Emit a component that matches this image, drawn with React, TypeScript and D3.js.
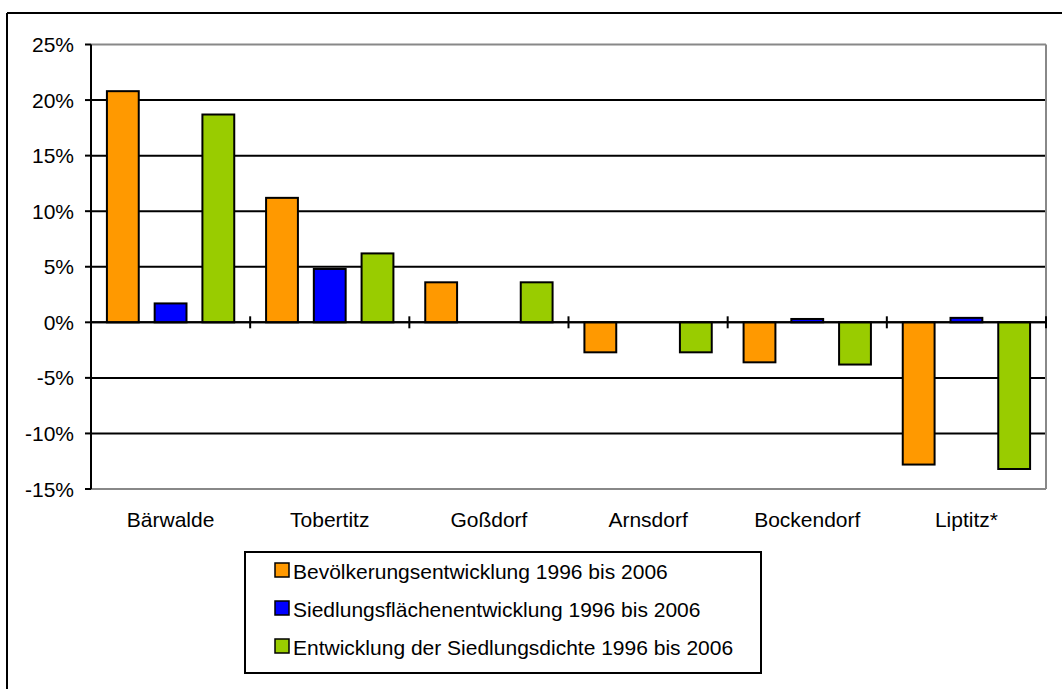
import React from "react";
import * as d3 from "d3";

// Orte und Kennzahlen (Veränderung in %)
const places = ["Bärwalde", "Tobertitz", "Goßdorf", "Arnsdorf", "Bockendorf", "Liptitz*"];
const seriesNames = [
  "Bevölkerungsentwicklung 1996 bis 2006",
  "Siedlungsflächenentwicklung 1996 bis 2006",
  "Entwicklung der Siedlungsdichte 1996 bis 2006",
];
const populationChange = [20.8, 11.2, 3.6, -2.7, -3.6, -12.8];
const areaChange = [1.7, 4.8, 0, 0, 0.3, 0.4];
const densityChange = [18.7, 6.2, 3.6, -2.7, -3.8, -13.2];
const seriesColors = ["#FF9900", "#0000FF", "#99CC00"];
const yTicks = [25, 20, 15, 10, 5, 0, -5, -10, -15];

const W = 1062;
const H = 689;
const plot = { left: 91, right: 1046, top: 44.5, bottom: 489 };
const FONT = "'Liberation Sans', Arial, sans-serif";
const FS = 21;

export default function App() {
  const series = [populationChange, areaChange, densityChange];
  const y = d3.scaleLinear().domain([-15, 25]).range([plot.bottom, plot.top]);
  const x = d3.scaleBand<string>().domain(places).range([plot.left, plot.right]).padding(0);
  const bw = x.bandwidth();
  const barW = bw * 0.2;
  const barStep = bw * 0.3;
  const barOffset = bw * 0.1;
  const y0 = y(0);

  const legend = { x: 245, y: 552, w: 516, h: 121 };

  return (
    <svg
      width={W}
      height={H}
      style={{ position: "absolute", left: 0, top: 0, background: "#fff" }}
      fontFamily={FONT}
    >
      <rect x={0} y={0} width={W} height={H} fill="#fff" />
      {/* outer chart frame */}
      <line x1={7} y1={13} x2={W} y2={13} stroke="#000" strokeWidth={2} />
      <line x1={7} y1={13} x2={7} y2={H} stroke="#000" strokeWidth={2} />

      {/* gridlines */}
      {yTicks.map((t) => {
        const edge = t === 25 || t === -15;
        return (
          <line
            key={"g" + t}
            x1={plot.left}
            x2={plot.right}
            y1={y(t)}
            y2={y(t)}
            stroke={edge ? "#888" : "#000"}
            strokeWidth={2}
          />
        );
      })}
      {/* plot area right border */}
      <line x1={plot.right} x2={plot.right} y1={plot.top} y2={plot.bottom} stroke="#888" strokeWidth={2} />

      {/* bars */}
      {places.map((p, i) =>
        series.map((s, j) => {
          const v = s[i];
          if (v === 0) return null;
          const bx = (x(p) as number) + barOffset + j * barStep;
          const top = Math.min(y(v), y0);
          const h = Math.abs(y(v) - y0);
          return (
            <rect
              key={p + j}
              x={bx}
              y={top}
              width={barW}
              height={h}
              fill={seriesColors[j]}
              stroke="#000"
              strokeWidth={2}
            />
          );
        })
      )}

      {/* y axis */}
      <line x1={plot.left} x2={plot.left} y1={plot.top} y2={plot.bottom} stroke="#000" strokeWidth={2} />
      {yTicks.map((t) => (
        <g key={"t" + t}>
          <line x1={plot.left - 6} x2={plot.left} y1={y(t)} y2={y(t)} stroke="#000" strokeWidth={2} />
          <text x={74} y={y(t)} dy="0.36em" textAnchor="end" fontSize={FS} fill="#000">
            {t + "%"}
          </text>
        </g>
      ))}

      {/* category axis along zero */}
      <line x1={plot.left} x2={plot.right} y1={y0} y2={y0} stroke="#000" strokeWidth={2} />
      {places.map((p, i) => (
        <line
          key={"ct" + i}
          x1={(x(p) as number) + bw}
          x2={(x(p) as number) + bw}
          y1={y0 - 6}
          y2={y0 + 6}
          stroke="#000"
          strokeWidth={2}
        />
      ))}
      {places.map((p) => (
        <text
          key={"cl" + p}
          x={(x(p) as number) + bw / 2}
          y={527}
          textAnchor="middle"
          fontSize={FS}
          fill="#000"
        >
          {p}
        </text>
      ))}

      {/* legend */}
      <rect x={legend.x} y={legend.y} width={legend.w} height={legend.h} fill="#fff" stroke="#000" strokeWidth={2} />
      {seriesNames.map((n, j) => (
        <g key={n}>
          <rect
            x={275}
            y={563 + j * 38}
            width={14}
            height={14}
            fill={seriesColors[j]}
            stroke="#000"
            strokeWidth={1.5}
          />
          <text x={293} y={579 + j * 38} fontSize={FS} fill="#000">
            {n}
          </text>
        </g>
      ))}
    </svg>
  );
}
